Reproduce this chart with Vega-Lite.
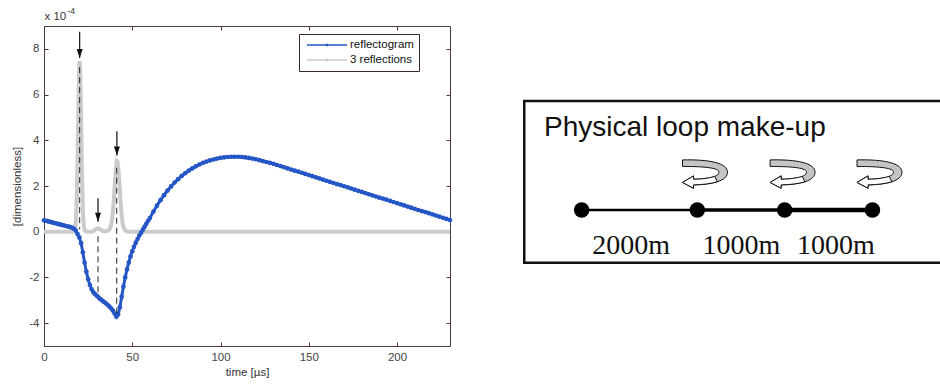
{
  "$schema": "https://vega.github.io/schema/vega-lite/v6.json",
  "background": "white",
  "padding": {"left": 11, "top": 6, "right": 0, "bottom": 0},
  "config": {"font": "Liberation Sans", "view": {"stroke": null}},
  "spacing": 63,
  "datasets": {
    "refl": [
      {"t":0,"v":0.5},{"t":1,"v":0.48},{"t":2,"v":0.46},{"t":3,"v":0.44},{"t":4,"v":0.42},{"t":5,"v":0.4},{"t":6,"v":0.38},{"t":7,"v":0.36},{"t":8,"v":0.34},{"t":9,"v":0.32},
      {"t":10,"v":0.3},{"t":11,"v":0.28},{"t":12,"v":0.26},{"t":13,"v":0.24},{"t":14,"v":0.22},{"t":15,"v":0.2},{"t":16,"v":0.17},{"t":17,"v":0.13},{"t":18,"v":0.05},{"t":19,"v":-0.1},
      {"t":20,"v":-0.25},{"t":21,"v":-0.5},{"t":22,"v":-0.9},{"t":23,"v":-1.35},{"t":24,"v":-1.75},{"t":25,"v":-2.08},{"t":26,"v":-2.33},{"t":27,"v":-2.52},{"t":28,"v":-2.65},{"t":29,"v":-2.74},
      {"t":30,"v":-2.81},{"t":31,"v":-2.88},{"t":32,"v":-2.95},{"t":33,"v":-3.01},{"t":34,"v":-3.07},{"t":35,"v":-3.13},{"t":36,"v":-3.2},{"t":37,"v":-3.27},{"t":38,"v":-3.35},{"t":39,"v":-3.45},
      {"t":40,"v":-3.58},{"t":41,"v":-3.72},{"t":42,"v":-3.62},{"t":43,"v":-3.3},{"t":44,"v":-2.85},{"t":45,"v":-2.4},{"t":46,"v":-2.0},{"t":47,"v":-1.65},{"t":48,"v":-1.35},{"t":49,"v":-1.08},
      {"t":50,"v":-0.86},{"t":51,"v":-0.66},{"t":52,"v":-0.48},{"t":53,"v":-0.32},{"t":54,"v":-0.17},{"t":55,"v":-0.04},{"t":56,"v":0.09},{"t":57,"v":0.22},{"t":58,"v":0.35},{"t":59,"v":0.48},
      {"t":60,"v":0.6},{"t":62,"v":0.88},{"t":64,"v":1.14},{"t":66,"v":1.38},{"t":68,"v":1.6},{"t":70,"v":1.8},{"t":72,"v":1.98},{"t":74,"v":2.15},{"t":76,"v":2.3},{"t":78,"v":2.44},
      {"t":80,"v":2.56},{"t":82,"v":2.67},{"t":84,"v":2.77},{"t":86,"v":2.86},{"t":88,"v":2.94},{"t":90,"v":3.01},{"t":92,"v":3.07},{"t":94,"v":3.12},{"t":96,"v":3.16},{"t":98,"v":3.2},
      {"t":100,"v":3.23},{"t":102,"v":3.25},{"t":104,"v":3.27},{"t":106,"v":3.28},{"t":108,"v":3.28},{"t":110,"v":3.28},{"t":112,"v":3.27},{"t":114,"v":3.25},{"t":116,"v":3.23},{"t":118,"v":3.2},
      {"t":120,"v":3.17},{"t":122,"v":3.13},{"t":124,"v":3.09},{"t":126,"v":3.05},{"t":128,"v":3.01},{"t":130,"v":2.97},{"t":132,"v":2.92},{"t":134,"v":2.87},{"t":136,"v":2.82},{"t":138,"v":2.77},
      {"t":140,"v":2.72},{"t":142,"v":2.67},{"t":144,"v":2.63},{"t":146,"v":2.58},{"t":148,"v":2.53},{"t":150,"v":2.48},{"t":152,"v":2.43},{"t":154,"v":2.38},{"t":156,"v":2.33},{"t":158,"v":2.28},
      {"t":160,"v":2.23},{"t":162,"v":2.18},{"t":164,"v":2.13},{"t":166,"v":2.08},{"t":168,"v":2.04},{"t":170,"v":1.99},{"t":172,"v":1.94},{"t":174,"v":1.89},{"t":176,"v":1.84},{"t":178,"v":1.79},
      {"t":180,"v":1.74},{"t":182,"v":1.69},{"t":184,"v":1.64},{"t":186,"v":1.59},{"t":188,"v":1.54},{"t":190,"v":1.49},{"t":192,"v":1.45},{"t":194,"v":1.4},{"t":196,"v":1.35},{"t":198,"v":1.3},
      {"t":200,"v":1.25},{"t":202,"v":1.2},{"t":204,"v":1.15},{"t":206,"v":1.1},{"t":208,"v":1.05},{"t":210,"v":1.0},{"t":212,"v":0.95},{"t":214,"v":0.9},{"t":216,"v":0.86},{"t":218,"v":0.81},
      {"t":220,"v":0.76},{"t":222,"v":0.71},{"t":224,"v":0.66},{"t":226,"v":0.61},{"t":228,"v":0.56},{"t":230,"v":0.51}
    ],
    "refl3": [
      {"t":0,"v":0},{"t":5,"v":0},{"t":10,"v":0},{"t":15,"v":0},{"t":16,"v":0},{"t":17,"v":0.02},{"t":17.5,"v":0.08},{"t":18,"v":0.37},{"t":18.5,"v":1.26},{"t":19,"v":3.07},
      {"t":19.5,"v":5.5},{"t":20,"v":7.28},{"t":20.2,"v":7.46},{"t":20.5,"v":7.06},{"t":21,"v":5.03},{"t":21.5,"v":2.63},{"t":22,"v":1.01},{"t":22.5,"v":0.28},{"t":23,"v":0.06},{"t":24,"v":0.01},
      {"t":25,"v":0},{"t":26,"v":0},{"t":27,"v":0},{"t":28,"v":0.03},{"t":29,"v":0.09},{"t":30,"v":0.14},{"t":30.5,"v":0.15},{"t":31,"v":0.14},{"t":32,"v":0.09},{"t":33,"v":0.04},
      {"t":34,"v":0.02},{"t":35,"v":0.02},{"t":36,"v":0.04},{"t":37,"v":0.1},{"t":38,"v":0.28},{"t":38.5,"v":0.5},{"t":39,"v":0.85},{"t":39.5,"v":1.35},{"t":40,"v":1.95},{"t":40.5,"v":2.55},
      {"t":41,"v":2.95},{"t":41.3,"v":3.1},{"t":41.6,"v":3.08},{"t":42,"v":2.85},{"t":42.5,"v":2.4},{"t":43,"v":1.8},{"t":43.5,"v":1.2},{"t":44,"v":0.72},{"t":44.5,"v":0.4},{"t":45,"v":0.2},
      {"t":46,"v":0.05},{"t":47,"v":0.01},{"t":48,"v":0},{"t":60,"v":0},{"t":100,"v":0},{"t":150,"v":0},{"t":200,"v":0},{"t":230,"v":0}
    ],
    "dashes": [
      {"t":20.2,"y1":7.2,"y2":0.1},
      {"t":30.6,"y1":-0.2,"y2":-2.8},
      {"t":41.2,"y1":2.8,"y2":-3.65}
    ],
    "arrows": [
      {"t":20.2,"top":8.75,"tip":7.6},
      {"t":30.6,"top":1.46,"tip":0.44},
      {"t":41.3,"top":4.39,"tip":3.33}
    ],
    "corner": [{"t":0,"v":9}],
    "box": [{"u1":0.3,"u2":100.8,"v1":26.0,"v2":76.6}],
    "heading": [{"u":5.05,"v":65.6,"text":"Physical loop make-up"}],
    "segments": [
      {"seg":"A","u1":14.1,"u2":41.9,"v":42.5,"label":"2000m","lu":26.0},
      {"seg":"B","u1":41.9,"u2":62.9,"v":42.5,"label":"1000m","lu":52.5},
      {"seg":"C","u1":62.9,"u2":84.0,"v":42.5,"label":"1000m","lu":75.2}
    ],
    "nodes": [{"u":14.1,"v":42.5},{"u":41.9,"v":42.5},{"u":62.9,"v":42.5},{"u":84.0,"v":42.5}],
    "reflections": [{"u":43.75,"v":54.0},{"u":64.8,"v":54.0},{"u":85.7,"v":54.0}]
  },
  "hconcat": [
    {
      "width": 406,
      "height": 320,
      "view": {"stroke": "#4e3a33", "strokeWidth": 1},
      "resolve": {"axis": {"x": "independent", "y": "independent"}},
      "layer": [
        {
          "data": {"name": "refl3"},
          "mark": {"type": "line", "strokeWidth": 4},
          "encoding": {
            "x": {"field": "t", "type": "quantitative", "scale": {"domain": [0, 230], "nice": false, "zero": false},
              "axis": {"orient": "bottom", "values": [0, 50, 100, 150, 200], "title": "time [µs]", "tickSize": -4, "labelPadding": 9, "domain": false, "grid": false, "tickColor": "#4e3a33", "labelColor": "#444444", "labelFontSize": 11.5, "labelFont": "Liberation Sans", "titleFont": "Liberation Sans", "titleFontSize": 11.5, "titleFontWeight": "normal", "titleColor": "#333333", "titlePadding": 4, "labelFlush": false}},
            "y": {"field": "v", "type": "quantitative", "scale": {"domain": [-5, 9], "nice": false, "zero": false},
              "axis": {"orient": "left", "values": [-4, -2, 0, 2, 4, 6, 8], "title": "[dimensionless]", "tickSize": -4, "labelPadding": 9, "domain": false, "grid": false, "tickColor": "#4e3a33", "labelColor": "#444444", "labelFontSize": 11.5, "labelFont": "Liberation Sans", "titleFont": "Liberation Sans", "titleFontSize": 11.5, "titleFontWeight": "normal", "titleColor": "#333333", "titlePadding": 6, "labelExpr": "replace(datum.label, '\u2212', '-')"}},
            "color": {"datum": "3 reflections", "type": "nominal",
              "scale": {"domain": ["reflectogram", "3 reflections"], "range": ["#2456c6", "#cbcbcb"]},
              "legend": {"orient": "none", "legendX": 255, "legendY": 8, "title": null, "fillColor": "white", "strokeColor": "#3b2a25", "padding": 5, "symbolType": "M-4,0H4M-0.15,0a0.15,0.15 0 1,0 0.3,0a0.15,0.15 0 1,0 -0.3,0", "symbolSize": 100, "symbolStrokeWidth": 1.5, "symbolOffset": 17, "labelOffset": 17, "labelFontSize": 11.5, "labelFont": "Liberation Sans", "labelColor": "#111111", "rowPadding": 3}}
          }
        },
        {
          "data": {"name": "refl"},
          "mark": {"type": "line", "strokeWidth": 3},
          "encoding": {
            "x": {"field": "t", "type": "quantitative", "axis": null},
            "y": {"field": "v", "type": "quantitative", "axis": null},
            "color": {"datum": "reflectogram", "type": "nominal"}
          }
        },
        {
          "data": {"name": "refl"},
          "mark": {"type": "point", "filled": true, "size": 22, "color": "#2456c6", "opacity": 1},
          "encoding": {
            "x": {"field": "t", "type": "quantitative", "axis": {"orient": "top", "values": [0, 50, 100, 150, 200], "labels": false, "title": null, "tickSize": -4, "domain": false, "grid": false, "tickColor": "#4e3a33"}},
            "y": {"field": "v", "type": "quantitative", "axis": {"orient": "right", "values": [-4, -2, 0, 2, 4, 6, 8], "labels": false, "title": null, "tickSize": -4, "domain": false, "grid": false, "tickColor": "#4e3a33"}}
          }
        },
        {
          "data": {"name": "dashes"},
          "mark": {"type": "rule", "color": "#222222", "strokeWidth": 1, "strokeDash": [6, 4]},
          "encoding": {
            "x": {"field": "t", "type": "quantitative", "axis": null},
            "y": {"field": "y1", "type": "quantitative", "axis": null},
            "y2": {"field": "y2"}
          }
        },
        {
          "data": {"name": "arrows"},
          "mark": {"type": "rule", "color": "#111111", "strokeWidth": 1.2},
          "encoding": {
            "x": {"field": "t", "type": "quantitative", "axis": null},
            "y": {"field": "top", "type": "quantitative", "axis": null},
            "y2": {"field": "tip"}
          }
        },
        {
          "data": {"name": "arrows"},
          "mark": {"type": "point", "shape": "M-1,-3L1,-3L0,0Z", "size": 36, "filled": true, "color": "#111111", "opacity": 1},
          "encoding": {
            "x": {"field": "t", "type": "quantitative", "axis": null},
            "y": {"field": "tip", "type": "quantitative", "axis": null}
          }
        },
        {
          "data": {"name": "corner"},
          "mark": {"type": "text", "text": "x 10", "align": "left", "baseline": "alphabetic", "dx": 0.5, "dy": -6, "fontSize": 11.5, "font": "Liberation Sans", "color": "#333333"},
          "encoding": {
            "x": {"field": "t", "type": "quantitative", "axis": null},
            "y": {"field": "v", "type": "quantitative", "axis": null}
          }
        },
        {
          "data": {"name": "corner"},
          "mark": {"type": "text", "text": "-4", "align": "left", "baseline": "alphabetic", "dx": 23.5, "dy": -11.7, "fontSize": 8.5, "font": "Liberation Sans", "color": "#333333"},
          "encoding": {
            "x": {"field": "t", "type": "quantitative", "axis": null},
            "y": {"field": "v", "type": "quantitative", "axis": null}
          }
        }
      ]
    },
    {
      "width": 416,
      "height": 320,
      "view": {"stroke": null},
      "layer": [
        {
          "data": {"name": "box"},
          "mark": {"type": "rect", "filled": false, "stroke": "#111111", "strokeWidth": 2.5},
          "encoding": {
            "x": {"field": "u1", "type": "quantitative", "scale": {"domain": [0, 100], "nice": false, "zero": false}, "axis": null},
            "x2": {"field": "u2"},
            "y": {"field": "v1", "type": "quantitative", "scale": {"domain": [0, 100], "nice": false, "zero": false}, "axis": null},
            "y2": {"field": "v2"}
          }
        },
        {
          "data": {"name": "heading"},
          "mark": {"type": "text", "align": "left", "baseline": "alphabetic", "fontSize": 28, "font": "Liberation Sans", "color": "#111111"},
          "encoding": {
            "x": {"field": "u", "type": "quantitative", "axis": null},
            "y": {"field": "v", "type": "quantitative", "axis": null},
            "text": {"field": "text"}
          }
        },
        {
          "data": {"name": "segments"},
          "mark": {"type": "rule", "color": "#000000"},
          "encoding": {
            "x": {"field": "u1", "type": "quantitative", "axis": null},
            "x2": {"field": "u2"},
            "y": {"field": "v", "type": "quantitative", "axis": null},
            "strokeWidth": {"field": "seg", "type": "nominal", "scale": {"domain": ["A", "B", "C"], "range": [2.7, 4.5, 6.5]}, "legend": null}
          }
        },
        {
          "data": {"name": "nodes"},
          "mark": {"type": "point", "shape": "circle", "filled": true, "size": 240, "color": "#000000", "opacity": 1},
          "encoding": {
            "x": {"field": "u", "type": "quantitative", "axis": null},
            "y": {"field": "v", "type": "quantitative", "axis": null}
          }
        },
        {
          "data": {"name": "segments"},
          "mark": {"type": "text", "align": "center", "baseline": "alphabetic", "fontSize": 28, "font": "Liberation Serif", "color": "#111111"},
          "encoding": {
            "x": {"field": "lu", "type": "quantitative", "axis": null},
            "y": {"datum": 28.75, "type": "quantitative", "axis": null},
            "text": {"field": "label"}
          }
        },
        {
          "data": {"name": "reflections"},
          "mark": {"type": "point", "shape": "M-1,-0.59C0.2,-0.62 1,-0.45 1,-0.04C1,0.35 0.3,0.5 -0.51,0.52L-0.51,0.67L-1,0.41L-0.51,0.12L-0.51,0.27C0.2,0.25 0.62,0.15 0.62,-0.05C0.62,-0.22 0.1,-0.3 -1,-0.3Z", "size": 2025, "filled": true, "fill": "#c4c4c4", "stroke": "#111111", "strokeWidth": 1, "opacity": 1},
          "encoding": {
            "x": {"field": "u", "type": "quantitative", "axis": null},
            "y": {"field": "v", "type": "quantitative", "axis": null}
          }
        },
        {
          "data": {"name": "reflections"},
          "mark": {"type": "point", "shape": "M-0.51,0.52L-0.51,0.67L-1,0.41L-0.51,0.12L-0.51,0.27C-0.08,0.258 0.22,0.21 0.43,0.14L0.55,0.38C0.2725,0.4675 -0.105,0.51 -0.51,0.52Z", "size": 2025, "filled": true, "fill": "#ffffff", "stroke": "#111111", "strokeWidth": 1, "opacity": 1},
          "encoding": {
            "x": {"field": "u", "type": "quantitative", "axis": null},
            "y": {"field": "v", "type": "quantitative", "axis": null}
          }
        }
      ]
    }
  ]
}
